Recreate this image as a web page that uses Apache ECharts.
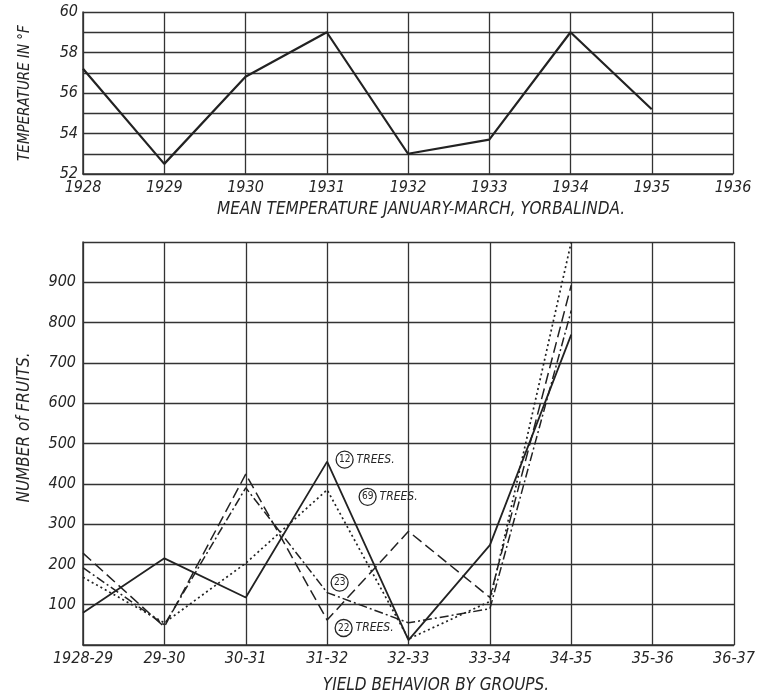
<!DOCTYPE html>
<html>
<head>
<meta charset="utf-8">
<script src="https://cdn.jsdelivr.net/npm/echarts@6/dist/echarts.min.js"></script>
<style>html,body{margin:0;padding:0;background:#fff;}#c{width:763px;height:696px;}</style>
</head>
<body>
<div id="c"></div>
<script>
var years = ['1928','1929','1930','1931','1932','1933','1934','1935','1936'];
var temperature = [57.2, 52.5, 56.8, 59.0, 53.0, 53.7, 59.0, 55.2];
var seasons = ['1928-29','29-30','30-31','31-32','32-33','33-34','34-35','35-36','36-37'];
var trees12 = [80, 215, 118, 455, 12, 248, 770];
var trees69 = [168, 55, 203, 385, 15, 108, 1000];
var trees23 = [192, 50, 390, 130, 55, 90, 830];
var trees22 = [228, 45, 424, 62, 282, 118, 893];
var groupLabels = ['12', '69', '23', '22'];

var FONT = 'DejaVu Sans Condensed, DejaVu Sans, sans-serif';
var INK = '#252525';
var txt = {fontFamily: FONT, fontStyle: 'italic', color: INK};
function T(o){ return Object.assign({}, txt, o); }

var gridLine = {show: true, lineStyle: {color: '#333', width: 1.3}};
var axLine = {show: true, lineStyle: {color: '#333', width: 1.5}};

var rich = {
  n: {fontFamily: FONT, fontSize: 10, color: INK, width: 17, height: 17, lineHeight: 17, align: 'center',
      borderColor: INK, borderWidth: 1.3, borderRadius: 9},
  t: {fontFamily: FONT, fontStyle: 'italic', fontSize: 12, color: INK}
};
function note(arr, idx, n, withTrees, offset) {
  return {
    symbol: 'circle', symbolSize: 0, silent: true,
    label: {show: true, position: 'right', offset: offset, rich: rich,
            formatter: withTrees ? '{n|' + n + '}{t| TREES.}' : '{n|' + n + '}'},
    data: [{coord: [seasons[idx], arr[idx]]}]
  };
}

var chart = echarts.init(document.getElementById('c'));
chart.setOption({
  animation: false,
  backgroundColor: '#fff',
  title: [
    {text: 'MEAN TEMPERATURE JANUARY-MARCH, YORBALINDA.', left: 416, top: 196, textAlign: 'center',
     textStyle: T({fontSize: 17, fontWeight: 'normal'})},
    {text: 'YIELD BEHAVIOR BY GROUPS.', left: 431, top: 672, textAlign: 'center',
     textStyle: T({fontSize: 17, fontWeight: 'normal'})}
  ],
  grid: [
    {left: 83, right: 30, top: 12, height: 162},
    {left: 83, right: 29, top: 242, height: 403}
  ],
  xAxis: [
    {type: 'category', gridIndex: 0, data: years, boundaryGap: false,
     axisLine: axLine, axisTick: {show: false}, splitLine: gridLine,
     axisLabel: T({fontSize: 16, margin: 6})},
    {type: 'category', gridIndex: 1, data: seasons, boundaryGap: false,
     axisLine: axLine, axisTick: {show: false}, splitLine: gridLine,
     axisLabel: T({fontSize: 16, margin: 6})}
  ],
  yAxis: [
    {type: 'value', gridIndex: 0, min: 52, max: 60, interval: 1,
     name: 'TEMPERATURE IN °F', nameLocation: 'middle', nameGap: 50, nameRotate: 90,
     nameTextStyle: T({fontSize: 15}),
     axisLine: axLine, axisTick: {show: false}, splitLine: gridLine,
     axisLabel: T({fontSize: 16, margin: 5, formatter: function (v) { return v % 2 === 0 ? String(v) : ''; }})},
    {type: 'value', gridIndex: 1, min: 0, max: 1000, interval: 100,
     name: 'NUMBER of FRUITS.', nameLocation: 'middle', nameGap: 50, nameRotate: 90,
     nameTextStyle: T({fontSize: 17, padding: [0, 0, 0, 32]}),
     axisLine: axLine, axisTick: {show: false}, splitLine: gridLine,
     axisLabel: T({fontSize: 16, margin: 7, formatter: function (v) { return (v === 0 || v === 1000) ? '' : String(v); }})}
  ],
  series: [
    {name: 'Temperature', type: 'line', xAxisIndex: 0, yAxisIndex: 0, data: temperature,
     showSymbol: false, lineStyle: {color: '#222', width: 2.2}},
    {name: '12 trees', type: 'line', xAxisIndex: 1, yAxisIndex: 1, data: trees12,
     showSymbol: false, lineStyle: {color: '#222', width: 1.8},
     markPoint: note(trees12, 3, groupLabels[0], true, [4, -2])},
    {name: '69 trees', type: 'line', xAxisIndex: 1, yAxisIndex: 1, data: trees69,
     showSymbol: false, lineStyle: {color: '#222', width: 1.7, type: [2, 3]},
     markPoint: note(trees69, 3, groupLabels[1], true, [27, 7])},
    {name: '23 trees', type: 'line', xAxisIndex: 1, yAxisIndex: 1, data: trees23,
     showSymbol: false, lineStyle: {color: '#222', width: 1.5, type: [9, 3, 2, 3]},
     markPoint: note(trees23, 3, groupLabels[2], false, [-1, -10])},
    {name: '22 trees', type: 'line', xAxisIndex: 1, yAxisIndex: 1, data: trees22,
     showSymbol: false, lineStyle: {color: '#222', width: 1.5, type: [11, 5]},
     markPoint: note(trees22, 3, groupLabels[3], true, [3, 8])}
  ]
});
</script>
</body>
</html>
